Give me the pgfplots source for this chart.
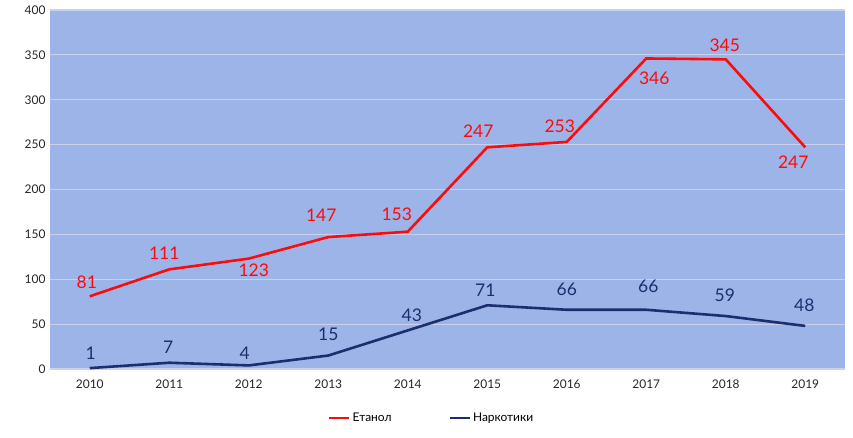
\documentclass[border=0pt]{standalone}
\usepackage{fontspec}
\setmainfont{Lato}
\usepackage{pgfplots}
\pgfplotsset{compat=1.18}
\definecolor{bgblue}{HTML}{9DB4E8}
\definecolor{gridc}{HTML}{C9D1EC}
\definecolor{etred}{HTML}{FF0A0A}
\definecolor{narco}{HTML}{1C2E6E}
\begin{document}
\begin{tikzpicture}
\begin{axis}[
    name=ax,
    scale only axis,
    width=795bp, height=359bp,
    xmin=-0.5, xmax=9.5,
    ymin=0, ymax=400,
    xtick={0,...,9},
    xticklabels={2010,2011,2012,2013,2014,2015,2016,2017,2018,2019},
    ytick={0,50,...,400},
    axis background/.style={fill=bgblue},
    axis line style={draw=none},
    major tick length=0pt,
    ymajorgrids=true,
    grid style={gridc, line width=1.2pt},
    tick label style={font=\fontsize{12}{14}\selectfont, text=black!85},
    xticklabel style={yshift=-7bp},
    yticklabel style={xshift=-1bp},
    /pgf/number format/assume math mode=true,
    legend style={at={(0.48,-0.136)}, anchor=center, draw=none, fill=none,
        legend columns=2, font=\fontsize{12}{14}\selectfont,
        /tikz/every even column/.append style={column sep=55bp}},
    legend image code/.code={\draw[#1, line width=2.6pt] (0bp,0bp) -- (20bp,0bp);},
    nodes near coords,
    point meta=explicit symbolic,
    visualization depends on={\thisrow{dx} \as \ldx},
    visualization depends on={\thisrow{dy} \as \ldy},
    every node near coord/.style={anchor=center, inner sep=0pt,
        xshift=\ldx bp, yshift=\ldy bp, font=\fontsize{17.5}{20}\selectfont},
]
\addplot[etred, line width=2.6pt, every node near coord/.append style={text=etred}]
    table[x=x, y=y, meta=y] {
    x y   dx  dy
    0 81  -3  14
    1 111 -5  16
    2 123  5 -12
    3 147 -7  22
    4 153 -11 17
    5 247 -9  16
    6 253 -7  16
    7 346  8 -20
    8 345 -1  14
    9 247 -12 -15
    };
\addlegendentry{Етанол}
\addplot[narco, line width=2.6pt, every node near coord/.append style={text=narco}]
    table[x=x, y=y, meta=y] {
    x y  dx dy
    0 1   1 15
    1 7  -1 15
    2 4  -4 12
    3 15  0 21
    4 43  4 15
    5 71 -2 15
    6 66  0 20
    7 66  2 23
    8 59 -1 21
    9 48 -1 21
    };
\addlegendentry{Наркотики}
\end{axis}
\useasboundingbox ([shift={(-50bp,-68bp)}]ax.south west) rectangle ([shift={(8bp,10bp)}]ax.north east);
\end{tikzpicture}
\end{document}
